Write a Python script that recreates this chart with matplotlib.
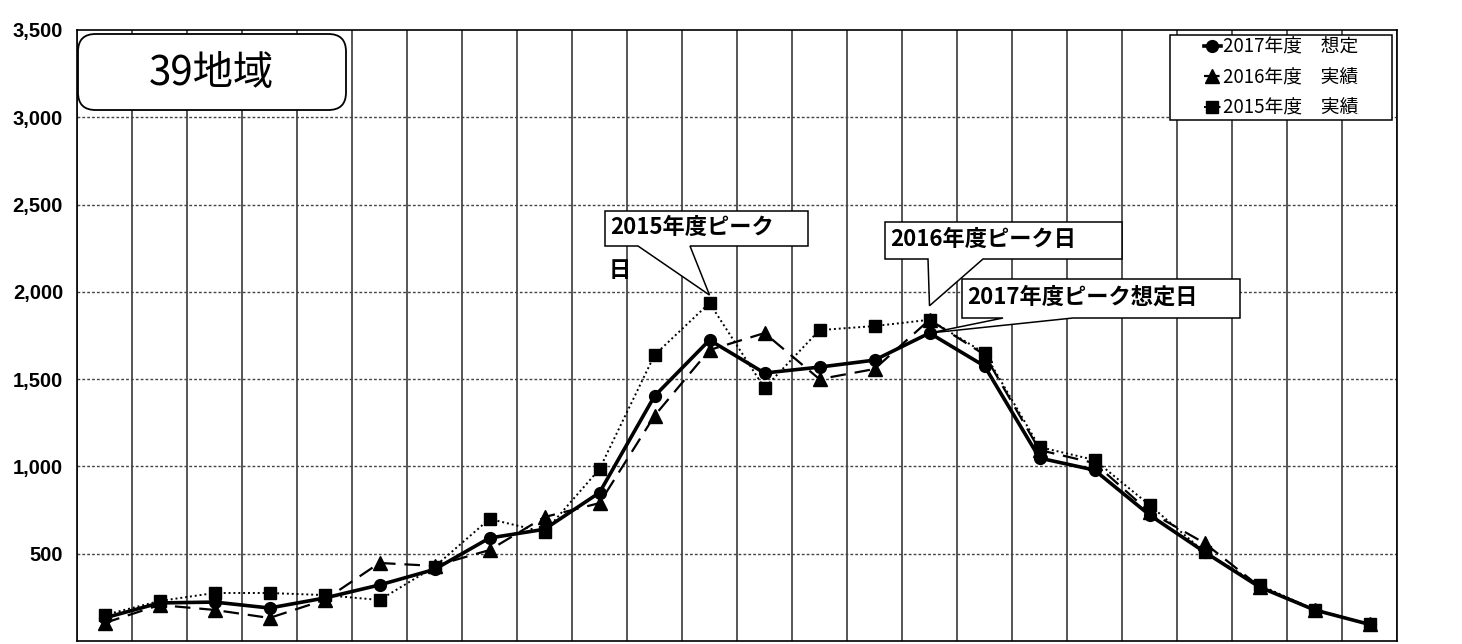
import matplotlib
matplotlib.use("Agg")
import matplotlib.pyplot as plt
from matplotlib.patches import Polygon, FancyBboxPatch, Rectangle

plt.rcParams['font.family'] = ['Noto Sans CJK JP', 'DejaVu Sans']

# ---- data ----
hours = list(range(1, 25))
v2017 = [132, 218, 223, 189, 246, 321, 410, 590, 640, 850, 1403, 1724,
         1535, 1569, 1609, 1764, 1575, 1048, 979, 722, 510, 309, 178, 95]
v2016 = [103, 206, 178, 132, 235, 447, 430, 521, 710, 790, 1290, 1667,
         1764, 1500, 1558, 1840, 1640, 1094, 1019, 739, 561, 312, 180, 95]
v2015 = [149, 229, 275, 275, 263, 235, 425, 699, 624, 985, 1638, 1936,
         1449, 1781, 1804, 1840, 1650, 1111, 1037, 779, 510, 321, 180, 95]
yticks = [500, 1000, 1500, 2000, 2500, 3000, 3500]
labels = ['2017年度\u3000想定', '2016年度\u3000実績', '2015年度\u3000実績']
title = '39地域'

W, H = 1462, 644
fig = plt.figure(figsize=(W / 100, H / 100), dpi=100)
ax = fig.add_axes([77 / W, (H - 641) / H, 1320 / W, 611 / H])

xs = list(range(len(hours)))
ax.set_xlim(-0.5, len(hours) - 0.5)
ax.set_ylim(0, 3500)

# grid
for k in range(len(hours) + 1):
    ax.axvline(k - 0.5, color='#3a3a3a', lw=1.2, zorder=1)
for t in yticks[:-1]:
    ax.axhline(t, color='#444444', lw=1.0, ls=(0, (2, 1.5)), zorder=1)

ax.set_xticks([])
ax.set_yticks(yticks)
ax.set_yticklabels([f'{t:,}' for t in yticks], fontfamily='Liberation Sans',
                   fontweight='bold', fontsize=14.5)
ax.tick_params(axis='y', length=0, pad=10)
for s in ax.spines.values():
    s.set_color('black')
    s.set_linewidth(1.2)

ms_kw = dict(color='black', markerfacecolor='black', markeredgecolor='black')
l15, = ax.plot(xs, v2015, ls=(0, (1, 1.5)), lw=1.4, marker='s', ms=9,
               zorder=4, **ms_kw)
l16, = ax.plot(xs, v2016, ls=(0, (7, 4)), lw=1.6, marker='^', ms=9.5,
               zorder=5, **ms_kw)
l17, = ax.plot(xs, v2017, ls='-', lw=2.6, marker='o', ms=8.5,
               zorder=6, **ms_kw)


def fx(px):
    return px / W


def fy(py):
    return 1 - py / H


# legend with a manually drawn frame
lx0, ly0, lx1, ly1 = 1170, 35, 1392, 120
fig.patches.append(Rectangle((fx(lx0), fy(ly1)), fx(lx1) - fx(lx0),
                             fy(ly0) - fy(ly1), transform=fig.transFigure,
                             fc='white', ec='black', lw=1.1, zorder=9))
leg = fig.legend([l17, l16, l15], labels, loc='center',
                 bbox_to_anchor=(fx((lx0 + lx1) / 2), fy((ly0 + ly1) / 2)),
                 frameon=False, fontsize=13.5, handlelength=0.9,
                 handletextpad=0.1, labelspacing=0.5, borderpad=0)
leg.set_zorder(10)

# title rounded box
tb = FancyBboxPatch((fx(78), fy(110)), fx(346) - fx(78), fy(34) - fy(110),
                    boxstyle='round,pad=0,rounding_size=0.012',
                    transform=fig.transFigure, fc='white', ec='black',
                    lw=1.3, zorder=8, mutation_aspect=W / H)
fig.patches.append(tb)
fig.text(fx(211), fy(73), title, fontsize=29, ha='center', va='center',
         zorder=9)


def callout(box, base_l, base_r, idx, vals, dy_px, text, text_dx=5):
    x0, y0, x1, y1 = box
    tip = ax.transData.transform((xs[idx], vals[idx]))
    tipf = fig.transFigure.inverted().transform((tip[0], tip[1] + dy_px))
    verts = [(fx(x0), fy(y0)), (fx(x1), fy(y0)), (fx(x1), fy(y1)),
             (fx(base_r), fy(y1)), (tipf[0], tipf[1]),
             (fx(base_l), fy(y1)), (fx(x0), fy(y1))]
    p = Polygon(verts, closed=True, transform=fig.transFigure, fc='white',
                ec='black', lw=1.1, zorder=7)
    fig.patches.append(p)
    fig.text(fx(x0 + text_dx), fy((y0 + y1) / 2 - 1), text, fontsize=16,
             fontweight='bold', ha='left', va='center', zorder=9)


callout((605, 211, 808, 246), 638, 690, 11, v2015, 8, '2015年度ピーク')
fig.text(fx(609), fy(271), '日', fontsize=16, fontweight='bold',
         ha='left', va='center')
callout((885, 222, 1122, 259), 928, 983, 15, v2016, 14, '2016年度ピーク日')
callout((962, 279, 1240, 318), 1003, 1073, 15, v2017, 0, '2017年度ピーク想定日')

fig.savefig('out.png', dpi=100)
